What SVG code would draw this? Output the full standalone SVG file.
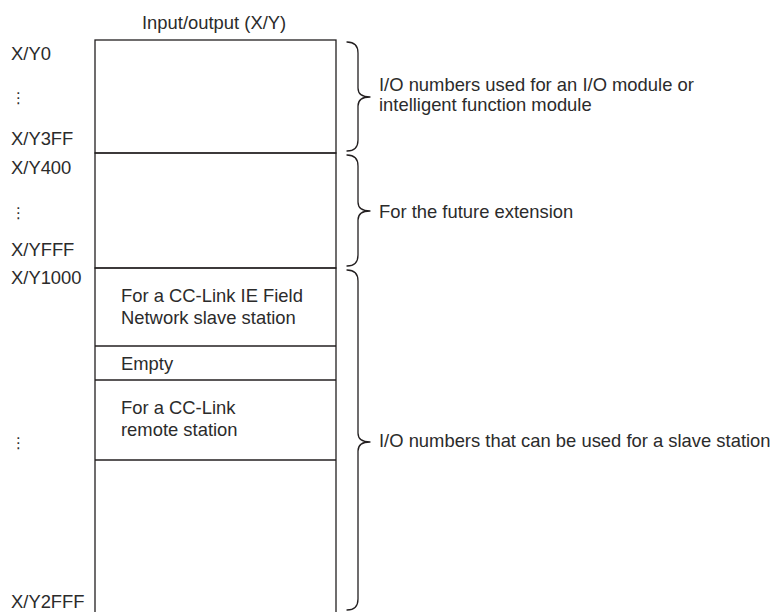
<svg xmlns="http://www.w3.org/2000/svg" width="777" height="612" viewBox="0 0 777 612">
<style>
text{font-family:"Liberation Sans",Arial,sans-serif;font-size:18.4px;fill:#2b2b2b}
.dots{font-family:"DejaVu Sans",sans-serif;font-size:15px}
.box{fill:none;stroke:#231f20;stroke-width:1.3}
.brace{fill:none;stroke:#231f20;stroke-width:1.3;stroke-linejoin:round;stroke-linecap:round}
</style>
<rect width="777" height="612" fill="#fff"/>
<text id="title" x="142" y="29">Input/output (X/Y)</text>
<g id="addresses">
<text x="11" y="60">X/Y0</text>
<text class="dots" x="11" y="103">⋮</text>
<text x="11" y="145">X/Y3FF</text>
<text x="11" y="174">X/Y400</text>
<text class="dots" x="11" y="218">⋮</text>
<text x="11" y="256">X/YFFF</text>
<text x="11" y="284">X/Y1000</text>
<text class="dots" x="11" y="448">⋮</text>
<text x="11" y="608">X/Y2FFF</text>
</g>
<g id="seg-io">
<rect class="box" x="95" y="40" width="241" height="113"/>
</g>
<g id="seg-future">
<rect class="box" x="95" y="153" width="241" height="115"/>
</g>
<g id="seg-slave">
<rect class="box" x="95" y="268" width="241" height="350"/>
</g>
<g id="seg-ccief">
<line class="box" x1="95" y1="346" x2="336" y2="346"/>
<text x="121" y="302">For a CC-Link IE Field</text>
<text x="121" y="324">Network slave station</text>
</g>
<g id="seg-empty">
<line class="box" x1="95" y1="380" x2="336" y2="380"/>
<text x="121" y="370">Empty</text>
</g>
<g id="seg-cclink">
<line class="box" x1="95" y1="460" x2="336" y2="460"/>
<text x="121" y="414">For a CC-Link</text>
<text x="121" y="436">remote station</text>
</g>
<g id="connectors">
<path class="brace" d="M347,42 Q358,42 358,53 L358,88 Q358,97 370,97 Q358,97 358,106 L358,140 Q358,151 347,151"/>
<path class="brace" d="M347,155 Q358,155 358,166 L358,202 Q358,211 370,211 Q358,211 358,220 L358,255 Q358,266 347,266"/>
<path class="brace" d="M347,270 Q358,270 358,281 L358,433 Q358,442 370,442 Q358,442 358,451 L358,599 Q358,610 347,610"/>
</g>
<g id="brace-labels">
<text x="379" y="91">I/O numbers used for an I/O module or</text>
<text x="379" y="111">intelligent function module</text>
<text x="379" y="218">For the future extension</text>
<text x="379" y="447">I/O numbers that can be used for a slave station</text>
</g>
</svg>
